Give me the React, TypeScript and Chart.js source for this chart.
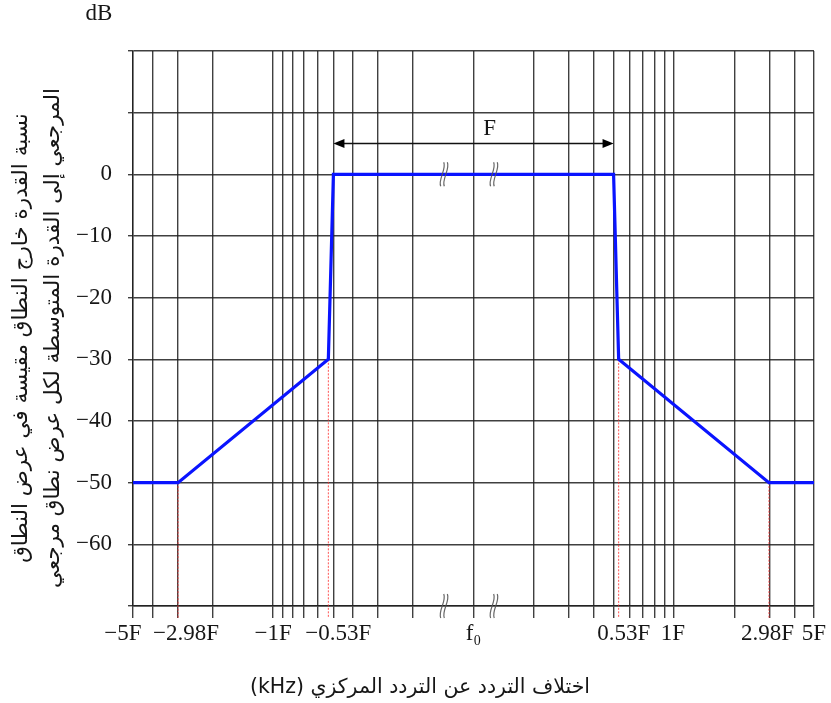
import React, { useEffect, useRef } from 'react';
import { Chart, registerables } from 'chart.js';

Chart.register(...registerables);

// Frequency offsets in units of F (0 = f0, the centre frequency)
const maskFreq = [-5, -2.98, -0.53, -0.5, 0.5, 0.53, 2.98, 5];
const maskDb = [-50, -50, -30, 0, 0, -30, -50, -50];

// knee points marked by dotted red verticals
const kneeFreq = [-2.98, -0.53, 0.53, 2.98];
const kneeDb = [-50, -30, -30, -50];

// vertical grid lines (log on each side, broken at the centre)
const gridFreq = [
  -5, -4, -3, -2, -1, -0.9, -0.8, -0.7, -0.6, -0.5, -0.4, -0.3, -0.2, 0,
  0.2, 0.3, 0.4, 0.5, 0.6, 0.7, 0.8, 0.9, 1, 2, 3, 4, 5,
];

// labelled x ticks
const labelFreq = [-5, -2.98, -1, -0.53, 0, 0.53, 1, 2.98, 5];
const labelText = ['−5F', '−2.98F', '−1F', '−0.53F', 'f₀', '0.53F', '1F', '2.98F', '5F'];
// horizontal nudge of each label (px, styling only)
const labelNudge = [-10, 8, 0, 10, 0, 5, -1, -1.5, 0];

// y axis
const yMin = -70;
const yMax = 20;
const yStep = 10;
const yLabelled = [-60, -50, -40, -30, -20, -10, 0];

// occupied bandwidth arrow (F)
const bandEdges = [-0.5, 0.5];
const arrowDb = 5;
const bandLabel = 'F';
const bandLabelAt = { x: 0.08, y: 7.4 }; // axis units

// axis-break marks (axis units of the transformed x axis)
const breakAt = [-0.147, 0.102];

const unitLabel = 'dB';
const yTitle = [
  'نسبة القدرة خارج النطاق مقيسة في عرض النطاق',
  'المرجعي إلى القدرة المتوسطة لكل عرض نطاق مرجعي',
];
const xTitle = 'اختلاف التردد عن التردد المركزي (kHz)';

const T = (f: number) => (f === 0 ? 0 : Math.sign(f) * (Math.log10(Math.abs(f)) + 1));
const near = (a: number, b: number) => Math.abs(a - b) < 1e-6;

const GRID = 'rgba(30,30,30,0.85)';
const TEXT = '#161616';
const SERIF = '"Liberation Serif", "Times New Roman", serif';
const SANS = '"DejaVu Sans", sans-serif';

const gridT = gridFreq.map(T);
const labelT = labelFreq.map(T);
const allT = Array.from(new Set([...gridT, ...labelT].map((v) => +v.toFixed(9)))).sort((a, b) => a - b);

const isGrid = (v: number) => gridT.some((g) => near(g, v));

const overlay = {
  id: 'overlay',
  beforeDatasetsDraw(chart: any) {
    const { ctx, scales } = chart;
    const xs = scales.x;
    const ys = scales.y;
    ctx.save();
    ctx.strokeStyle = 'rgba(255,40,40,0.8)';
    ctx.lineWidth = 1;
    ctx.setLineDash([2, 1.5]);
    kneeFreq.forEach((f, i) => {
      const x = xs.getPixelForValue(T(f));
      ctx.beginPath();
      ctx.moveTo(x, ys.getPixelForValue(kneeDb[i]));
      ctx.lineTo(x, ys.bottom + 12);
      ctx.stroke();
    });
    ctx.restore();
  },
  afterDatasetsDraw(chart: any) {
    const { ctx, scales } = chart;
    const xs = scales.x;
    const ys = scales.y;
    ctx.save();
    ctx.strokeStyle = 'rgba(85,85,85,0.9)';
    ctx.lineWidth = 1.2;
    const levels = [ys.getPixelForValue(0), ys.bottom];
    breakAt.forEach((b) => {
      const cx = xs.getPixelForValue(b);
      levels.forEach((cy) => {
        [-1.8, 1.8].forEach((off) => {
          ctx.beginPath();
          ctx.moveTo(cx + off + 1.5, cy - 12);
          ctx.bezierCurveTo(cx + off + 4.5, cy - 5, cx + off - 4.5, cy + 5, cx + off - 1.5, cy + 12);
          ctx.stroke();
        });
      });
    });
    ctx.restore();
  },
  afterDraw(chart: any) {
    const { ctx, scales } = chart;
    const xs = scales.x;
    const ys = scales.y;
    ctx.save();
    ctx.fillStyle = TEXT;
    ctx.textAlign = 'center';
    ctx.textBaseline = 'middle';

    // x tick labels
    ctx.font = `23px ${SERIF}`;
    labelFreq.forEach((f, i) => {
      ctx.fillText(labelText[i], xs.getPixelForValue(T(f)) + labelNudge[i], ys.bottom + 28);
    });

    // unit label
    ctx.font = `23px ${SERIF}`;
    ctx.fillText(unitLabel, 99, 14);

    // F arrow
    const xa = xs.getPixelForValue(T(bandEdges[0]));
    const xb = xs.getPixelForValue(T(bandEdges[1]));
    const ya = ys.getPixelForValue(arrowDb);
    ctx.strokeStyle = '#111';
    ctx.lineWidth = 1.3;
    ctx.beginPath();
    ctx.moveTo(xa + 4, ya);
    ctx.lineTo(xb - 4, ya);
    ctx.stroke();
    ctx.fillStyle = '#000';
    ctx.beginPath();
    ctx.moveTo(xa, ya);
    ctx.lineTo(xa + 11, ya - 4.5);
    ctx.lineTo(xa + 11, ya + 4.5);
    ctx.closePath();
    ctx.fill();
    ctx.beginPath();
    ctx.moveTo(xb, ya);
    ctx.lineTo(xb - 11, ya - 4.5);
    ctx.lineTo(xb - 11, ya + 4.5);
    ctx.closePath();
    ctx.fill();
    ctx.fillStyle = TEXT;
    ctx.font = `23px ${SERIF}`;
    ctx.fillText(bandLabel, xs.getPixelForValue(bandLabelAt.x), ys.getPixelForValue(bandLabelAt.y));

    // y title (rotated, two lines)
    ctx.font = `21.5px ${SANS}`;
    ctx.direction = 'rtl';
    ctx.textAlign = 'center';
    const cy = 338;
    [21, 53].forEach((x, i) => {
      ctx.save();
      ctx.translate(x, cy);
      ctx.rotate(-Math.PI / 2);
      ctx.fillText(yTitle[i], 0, 0);
      ctx.restore();
    });

    // x title
    ctx.font = `20.5px ${SANS}`;
    ctx.fillText(xTitle, 420, 688);
    ctx.restore();
  },
};

export default function App() {
  const ref = useRef<HTMLCanvasElement | null>(null);

  useEffect(() => {
    if (!ref.current) return;
    const chart = new Chart(ref.current, {
      type: 'line',
      data: {
        datasets: [
          {
            data: maskFreq.map((f, i) => ({ x: T(f), y: maskDb[i] })),
            borderColor: 'rgb(10,20,255)',
            borderWidth: 3.2,
            pointRadius: 0,
            fill: false,
            tension: 0,
          },
        ],
      },
      options: {
        responsive: false,
        animation: false,
        layout: { padding: { left: 0, top: 51, right: 17, bottom: 0 } },
        plugins: { legend: { display: false }, tooltip: { enabled: false }, title: { display: false } },
        scales: {
          x: {
            type: 'linear',
            min: T(-5),
            max: T(5),
            afterFit: (s: any) => {
              s.height = 97;
            },
            afterBuildTicks: (s: any) => {
              s.ticks = allT.map((v) => ({ value: v }));
            },
            grid: {
              color: (c: any) => (isGrid(c.tick?.value) ? GRID : 'rgba(0,0,0,0)'),
              tickColor: (c: any) => (isGrid(c.tick?.value) ? GRID : 'rgba(0,0,0,0)'),
              lineWidth: 1.4,
              tickLength: 12,
              drawTicks: true,
            },
            border: { display: true, color: GRID, width: 1.4 },
            ticks: {
              display: false,
              autoSkip: false,
              maxRotation: 0,
              minRotation: 0,
            },
          },
          y: {
            type: 'linear',
            min: yMin,
            max: yMax,
            afterFit: (s: any) => {
              s.width = 133;
            },
            grid: { color: GRID, lineWidth: 1.4, tickLength: 5, drawTicks: true },
            border: { display: true, color: GRID, width: 1.4 },
            ticks: {
              stepSize: yStep,
              padding: 16,
              color: TEXT,
              font: { family: SERIF, size: 23 },
              callback: (v: any) => (yLabelled.includes(Number(v)) ? String(v).replace('-', '−') : ''),
            },
          },
        },
      },
      plugins: [overlay],
    });
    return () => chart.destroy();
  }, []);

  return (
    <div style={{ position: 'fixed', left: 0, top: 0, width: 831, height: 703, background: '#fff' }}>
      <canvas ref={ref} width={831} height={703} style={{ display: 'block' }} />
    </div>
  );
}
